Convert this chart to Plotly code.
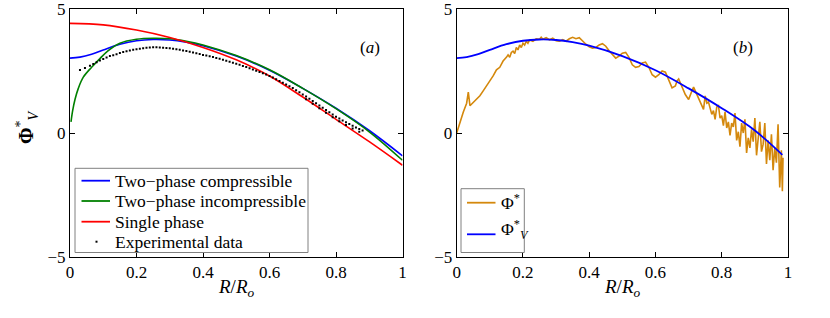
import plotly.graph_objects as go

# ---------------- Panel (a) data ----------------
comp_x = [0.0, 0.03, 0.065, 0.1, 0.15, 0.2, 0.25, 0.3, 0.35, 0.4, 0.5, 0.6, 0.7, 0.8, 0.9, 1.0]
comp_y = [3.02, 3.06, 3.18, 3.35, 3.58, 3.72, 3.77, 3.75, 3.66, 3.52, 3.1, 2.53, 1.8, 1.0, 0.1, -0.92]

incomp_x = [0.003, 0.008, 0.015, 0.025, 0.04, 0.065, 0.09, 0.115, 0.15, 0.2, 0.25, 0.3, 0.35, 0.4, 0.5, 0.6, 0.7, 0.8, 0.9, 1.0]
incomp_y = [0.45, 0.9, 1.35, 1.8, 2.25, 2.65, 3.0, 3.32, 3.62, 3.78, 3.82, 3.8, 3.7, 3.55, 3.12, 2.55, 1.8, 0.98, 0.05, -1.1]

single_x = [0.0, 0.1, 0.2, 0.3, 0.4, 0.5, 0.6, 0.7, 0.8, 0.9, 1.0]
single_y = [4.42, 4.36, 4.15, 3.85, 3.45, 2.95, 2.3, 1.45, 0.55, -0.35, -1.3]

exp_x = [0.03, 0.045, 0.06, 0.07, 0.08, 0.09, 0.1, 0.11, 0.12, 0.13, 0.14, 0.15, 0.16, 0.17, 0.18,
         0.19, 0.2, 0.21, 0.22, 0.23, 0.24, 0.25, 0.26, 0.27, 0.28, 0.29,
         0.3, 0.31, 0.32, 0.33, 0.34, 0.35, 0.36, 0.37, 0.38, 0.39, 0.4, 0.41, 0.42, 0.43, 0.44,
         0.45, 0.46, 0.47, 0.48, 0.49, 0.5, 0.51, 0.52, 0.53, 0.54, 0.55, 0.56, 0.57,
         0.58, 0.59, 0.6, 0.61, 0.62, 0.63, 0.64, 0.65, 0.66, 0.67, 0.68, 0.69, 0.7, 0.71, 0.72,
         0.73, 0.74, 0.75, 0.76, 0.77, 0.78, 0.79, 0.8, 0.81, 0.82, 0.83, 0.84, 0.85,
         0.86, 0.87, 0.88,
         0.71, 0.73, 0.75, 0.77, 0.79, 0.81, 0.83, 0.85, 0.87]
exp_y = [2.54, 2.62, 2.71, 2.78, 2.85, 2.92, 2.98, 3.04, 3.1, 3.14, 3.18, 3.23, 3.27, 3.3, 3.33,
         3.36, 3.38, 3.4, 3.42, 3.44, 3.45, 3.46, 3.46, 3.45, 3.44, 3.43,
         3.42, 3.4, 3.38, 3.36, 3.33, 3.31, 3.28, 3.25, 3.22, 3.19, 3.15, 3.12, 3.09, 3.06, 3.02,
         2.99, 2.95, 2.91, 2.87, 2.83, 2.79, 2.75, 2.7, 2.66, 2.61, 2.56, 2.51, 2.46,
         2.41, 2.36, 2.3, 2.24, 2.17, 2.1, 2.03, 1.96, 1.89, 1.81, 1.72, 1.64, 1.55, 1.47, 1.38,
         1.29, 1.2, 1.11, 1.02, 0.93, 0.84, 0.75, 0.66, 0.58, 0.5, 0.43, 0.36, 0.29,
         0.22, 0.16, 0.1,
         1.36, 1.18, 1.0, 0.82, 0.64, 0.47, 0.32, 0.18, 0.05]

# ---------------- Panel (b) data ----------------
phi_x = [0.0, 0.01, 0.02, 0.03, 0.035, 0.04, 0.05, 0.06, 0.07, 0.08, 0.09, 0.1, 0.11, 0.12,
         0.13, 0.14, 0.15, 0.155, 0.16, 0.165, 0.17, 0.175, 0.18, 0.185, 0.19, 0.195, 0.2,
         0.205, 0.21, 0.215, 0.22, 0.23, 0.24, 0.25, 0.255, 0.26, 0.27, 0.28, 0.29, 0.3,
         0.31, 0.32, 0.33, 0.34, 0.35, 0.36, 0.37, 0.38, 0.39, 0.4, 0.41, 0.42, 0.43, 0.44,
         0.45, 0.46, 0.47, 0.48, 0.49, 0.5, 0.51, 0.52, 0.53, 0.54, 0.55, 0.56, 0.57, 0.58,
         0.59, 0.6, 0.61, 0.62, 0.63, 0.64, 0.65, 0.66, 0.665, 0.67, 0.68, 0.69, 0.7, 0.705,
         0.71, 0.715, 0.72, 0.73, 0.74, 0.745, 0.75, 0.755, 0.76, 0.77, 0.775, 0.78, 0.785,
         0.79, 0.795, 0.8, 0.805, 0.81, 0.815, 0.82, 0.825, 0.83, 0.835, 0.84, 0.845, 0.85,
         0.855, 0.86, 0.865, 0.87, 0.875, 0.88, 0.885, 0.89, 0.895, 0.9, 0.905, 0.91, 0.915,
         0.92, 0.925, 0.93, 0.935, 0.94, 0.945, 0.95, 0.955, 0.96, 0.965, 0.97, 0.975, 0.98,
         0.983, 0.985]
phi_y = [0.0, 0.45, 0.85, 1.2, 1.65, 1.1, 1.22, 1.35, 1.5, 1.7, 1.92, 2.1, 2.3, 2.55,
         2.65, 2.9, 3.05, 3.15, 3.05, 3.25, 3.3, 3.2, 3.45, 3.35, 3.55, 3.45, 3.62,
         3.55, 3.7, 3.62, 3.75, 3.7, 3.8, 3.78, 3.86, 3.78, 3.84, 3.76, 3.82, 3.72,
         3.7, 3.76, 3.7, 3.8, 3.86, 3.8, 3.84, 3.7, 3.58, 3.48, 3.42, 3.45, 3.55, 3.6,
         3.5, 3.32, 3.15, 3.02, 3.1, 3.22, 3.25, 3.05, 2.75, 2.65, 2.68, 2.82, 2.86, 2.65,
         2.35, 2.25, 2.35, 2.5, 2.45, 2.1, 1.82, 1.9, 2.1, 2.18, 1.9, 1.55, 1.35, 1.55,
         1.7, 1.85, 1.7, 1.4, 1.1, 0.95, 1.5, 1.2, 1.25, 0.75, 0.9, 0.55, 1.05,
         1.1, 0.6, 0.7, 0.3, 0.85, 0.2, 0.45, -0.1, 0.4, 0.25, 0.8, -0.3, 0.05,
         -0.55, 0.4, 0.0, 0.55, -0.8, -0.2, -0.6, 0.15, -0.35, 0.6, -0.9, -0.2, 0.45,
         -0.75, -0.45, 0.4, -1.25, -0.3, -1.1, -0.05, -1.5, -0.6, -1.2, 0.35, -2.2, -0.7,
         -2.35, -1.0]

phiv_x = [0.0, 0.03, 0.065, 0.1, 0.15, 0.2, 0.25, 0.3, 0.35, 0.4, 0.5, 0.6, 0.7, 0.8, 0.9, 0.983]
phiv_y = [3.02, 3.06, 3.18, 3.35, 3.58, 3.72, 3.77, 3.75, 3.66, 3.52, 3.1, 2.53, 1.8, 1.0, 0.1, -0.88]

x_ticks = [0, 0.2, 0.4, 0.6, 0.8, 1]
x_ticktext = ["0", "0.2", "0.4", "0.6", "0.8", "1"]
y_ticks = [-5, 0, 5]
y_ticktext = ["\u22125", "0", "5"]

legend_a = ["Two\u2212phase compressible", "Two\u2212phase incompressible", "Single phase", "Experimental data"]
legend_b = ["\u03a6<sup>*</sup>", "\u03a6<sup>*</sup><sub><i>V</i></sub>"]

FONT = "Liberation Serif, Times New Roman, Times, serif"
BLUE = "#0000FF"
GREEN = "#008000"
RED = "#FF0000"
ORANGE = "#D4880C"

W, H = 830, 318
TOP, BOT = 9, 257   # plot area in pixels


def px(xp):
    return xp / W


def py(yp):
    return (BOT - yp) / (BOT - TOP)


fig = go.Figure()
fig.add_trace(go.Scatter(x=comp_x, y=comp_y, mode="lines", line=dict(color=BLUE, width=1.6, shape="spline"),
                         name=legend_a[0], xaxis="x", yaxis="y"))
fig.add_trace(go.Scatter(x=incomp_x, y=incomp_y, mode="lines", line=dict(color=GREEN, width=1.6, shape="spline"),
                         name=legend_a[1], xaxis="x", yaxis="y"))
fig.add_trace(go.Scatter(x=single_x, y=single_y, mode="lines", line=dict(color=RED, width=1.6, shape="spline"),
                         name=legend_a[2], xaxis="x", yaxis="y"))
fig.add_trace(go.Scatter(x=exp_x, y=exp_y, mode="markers", marker=dict(color="black", size=2, symbol="square"),
                         name=legend_a[3], xaxis="x", yaxis="y"))
fig.add_trace(go.Scatter(x=phi_x, y=phi_y, mode="lines", line=dict(color=ORANGE, width=1.6),
                         name=legend_b[0], xaxis="x2", yaxis="y2"))
fig.add_trace(go.Scatter(x=phiv_x, y=phiv_y, mode="lines", line=dict(color=BLUE, width=1.8, shape="spline"),
                         name=legend_b[1], xaxis="x2", yaxis="y2"))

axis_common = dict(showline=True, linecolor="black", linewidth=1, mirror="ticks", ticks="inside",
                   ticklen=5, tickcolor="black", showgrid=False, zeroline=False, automargin=False,
                   ticklabeloverflow="allow",
                   tickfont=dict(family=FONT, size=17, color="black"))

# legend boxes, samples (drawn as layout decorations)
shapes = [
    dict(type="rect", xref="paper", yref="paper", x0=px(75), x1=px(308), y0=py(252.5), y1=py(168.3),
         line=dict(color="#808080", width=1), fillcolor="white", layer="above"),
    dict(type="rect", xref="paper", yref="paper", x0=px(461), x1=px(524.3), y0=py(252.5), y1=py(188.7),
         line=dict(color="#808080", width=1), fillcolor="white", layer="above"),
]
row_y_a = [180.7, 201.0, 221.7, 241.7]
for yy, col in zip(row_y_a[:3], [BLUE, GREEN, RED]):
    shapes.append(dict(type="line", xref="paper", yref="paper", x0=px(81.5), x1=px(110), y0=py(yy), y1=py(yy),
                       line=dict(color=col, width=1.8), layer="above"))
shapes.append(dict(type="rect", xref="paper", yref="paper", x0=px(95.5), x1=px(97.5), y0=py(242.7), y1=py(240.7),
                   line=dict(width=0), fillcolor="black", layer="above"))
for yy, col in zip([202.7, 234.3], [ORANGE, BLUE]):
    shapes.append(dict(type="line", xref="paper", yref="paper", x0=px(467), x1=px(495.5), y0=py(yy), y1=py(yy),
                       line=dict(color=col, width=1.8), layer="above"))

annotations = []
for txt, yy in zip(legend_a, row_y_a):
    annotations.append(dict(text=txt, x=px(113), y=py(yy), xref="paper", yref="paper", xanchor="left",
                            yanchor="middle", showarrow=False, font=dict(family=FONT, size=17.5, color="black")))
annotations.append(dict(text=legend_b[0], x=px(498.5), y=py(202), xref="paper", yref="paper", xanchor="left",
                        yanchor="middle", showarrow=False, font=dict(family=FONT, size=17.5, color="black")))
annotations.append(dict(text=legend_b[1], x=px(498.5), y=py(229), xref="paper", yref="paper", xanchor="left",
                        yanchor="middle", showarrow=False, font=dict(family=FONT, size=17.5, color="black")))
annotations += [
    dict(text="(<i>a</i>)", x=px(370), y=py(36), xref="paper", yref="paper", showarrow=False,
         font=dict(family=FONT, size=17)),
    dict(text="(<i>b</i>)", x=px(755), y=py(36), xref="paper", yref="paper", showarrow=False,
         font=dict(family=FONT, size=17)),
    dict(text="<i>R</i>/<i>R</i><sub><i>o</i></sub>", x=px(236), y=py(274), xref="paper", yref="paper",
         xanchor="center", yanchor="top", showarrow=False, font=dict(family=FONT, size=19)),
    dict(text="<i>R</i>/<i>R</i><sub><i>o</i></sub>", x=px(622), y=py(274), xref="paper", yref="paper",
         xanchor="center", yanchor="top", showarrow=False, font=dict(family=FONT, size=19)),
    dict(text="<b>\u03a6</b><sup>*</sup><sub><i>V</i></sub>", x=px(27), y=py(127), xref="paper", yref="paper",
         xanchor="center", yanchor="middle", textangle=-90, showarrow=False, font=dict(family=FONT, size=20)),
]

fig.update_layout(
    width=W, height=H,
    margin=dict(l=0, r=0, t=TOP, b=H - BOT),
    paper_bgcolor="white", plot_bgcolor="white",
    font=dict(family=FONT, color="black"),
    showlegend=False,
    xaxis=dict(domain=[px(70), px(402.5)], range=[0, 1], tickvals=x_ticks, ticktext=x_ticktext, **axis_common),
    yaxis=dict(range=[-5, 5], tickvals=y_ticks, ticktext=y_ticktext, **axis_common),
    xaxis2=dict(domain=[px(456.7), px(788)], range=[0, 1], tickvals=x_ticks, ticktext=x_ticktext,
                anchor="y2", **axis_common),
    yaxis2=dict(range=[-5, 5], tickvals=y_ticks, ticktext=y_ticktext, anchor="x2", **axis_common),
    shapes=shapes,
    annotations=annotations,
)

fig.write_html("out.html", config={"displayModeBar": False, "staticPlot": True},
               post_script="document.body.style.margin='0';document.body.style.overflow='hidden';")
